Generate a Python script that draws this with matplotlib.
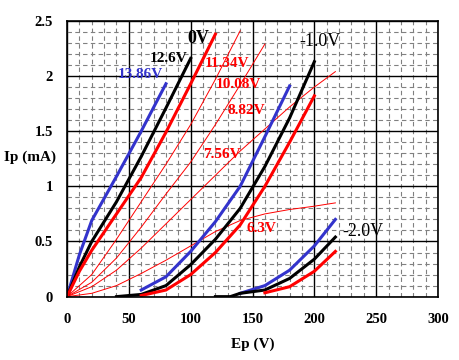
"""
Plate characteristics (Ep vs Ip) for grid bias 0V / -1.0V / -2.0V
at several heater voltages.
"""

import matplotlib
matplotlib.use('Agg')
import matplotlib.pyplot as plt
from matplotlib.ticker import MultipleLocator

RED = '#ff0000'
BLUE = '#3333cc'
BLACK = '#000000'

plt.rcParams.update({
    'font.family': ['Liberation Serif', 'DejaVu Serif'],
    'font.weight': 'bold',
    'axes.labelweight': 'bold',
})

# ── Grid 0V, thick curves ──────────────────────────────────────────
ep_0v_1386 = [0, 10, 20, 40, 60, 80]
ip_0v_1386 = [0, 0.38, 0.69, 1.09, 1.50, 1.93]

ep_0v_126 = [0, 10, 20, 40, 60, 80, 100]
ip_0v_126 = [0, 0.27, 0.50, 0.86, 1.27, 1.71, 2.16]

ep_0v_1134 = [0, 10, 20, 40, 60, 80, 100, 120]
ip_0v_1134 = [0, 0.23, 0.42, 0.75, 1.08, 1.49, 1.93, 2.38]

# ── Grid 0V, reduced heater (thin) ─────────────────────────────────
ep_0v_1008 = [0, 20, 40, 60, 80, 100, 120, 140]
ip_0v_1008 = [0, 0.20, 0.52, 0.86, 1.20, 1.56, 1.97, 2.41]

ep_0v_882 = [0, 20, 40, 60, 80, 100, 120, 140, 160]
ip_0v_882 = [0, 0.13, 0.35, 0.63, 0.93, 1.22, 1.56, 1.92, 2.29]

ep_0v_756 = [0, 20, 40, 60, 80, 100, 120, 140, 160, 180, 200, 217]
ip_0v_756 = [0, 0.09, 0.24, 0.44, 0.66, 0.88, 1.10, 1.32, 1.52, 1.72, 1.90, 2.04]

ep_0v_63 = [0, 20, 40, 60, 80, 100, 120, 140, 160, 180, 200, 217]
ip_0v_63 = [0, 0.03, 0.10, 0.21, 0.33, 0.46, 0.59, 0.69, 0.75, 0.79, 0.82, 0.85]

# ── Grid -1.0V ─────────────────────────────────────────────────────
ep_m1_1386 = [60, 80, 100, 120, 140, 160, 180]
ip_m1_1386 = [0.06, 0.18, 0.41, 0.68, 1.00, 1.45, 1.91]

ep_m1_126 = [40, 60, 80, 100, 120, 140, 160, 180, 200]
ip_m1_126 = [0, 0.02, 0.10, 0.29, 0.52, 0.80, 1.18, 1.62, 2.13]

ep_m1_1134 = [60, 80, 100, 120, 140, 160, 180, 200]
ip_m1_1134 = [0.01, 0.06, 0.20, 0.40, 0.65, 1.00, 1.40, 1.82]

# ── Grid -2.0V ─────────────────────────────────────────────────────
ep_m2_1386 = [140, 160, 180, 200, 217]
ip_m2_1386 = [0.03, 0.10, 0.24, 0.46, 0.70]

ep_m2_126 = [120, 132, 140, 160, 180, 200, 217]
ip_m2_126 = [0, 0, 0.03, 0.06, 0.165, 0.34, 0.54]

ep_m2_1134 = [160, 180, 200, 217]
ip_m2_1134 = [0.035, 0.09, 0.23, 0.41]

x_ticks = [0, 50, 100, 150, 200, 250, 300]
y_ticks = [0, 0.5, 1, 1.5, 2, 2.5]
y_tick_labels = ['0', '0.5', '1', '1.5', '2', '2.5']


def main():
    fig = plt.figure(figsize=(4.6, 3.6), dpi=100)
    fig.patch.set_facecolor('white')
    ax = fig.add_axes([0.1457, 0.176, 0.8065, 0.766])

    ax.set_xlim(0, 300)
    ax.set_ylim(0, 2.5)
    ax.set_xticks(x_ticks)
    ax.set_yticks(y_ticks)
    ax.set_yticklabels(y_tick_labels)
    ax.xaxis.set_minor_locator(MultipleLocator(10))
    ax.yaxis.set_minor_locator(MultipleLocator(0.1))
    ax.grid(which='minor', color='#808080', linestyle=(0, (4, 3)),
            linewidth=0.8)
    ax.grid(which='major', color='black', linestyle='-', linewidth=1.0)
    ax.set_axisbelow(True)
    ax.tick_params(which='both', length=0, labelsize=10.5)
    ax.tick_params(axis='x', pad=12)
    ax.tick_params(axis='y', pad=10)
    for lab in ax.get_xticklabels() + ax.get_yticklabels():
        lab.set_fontweight('bold')
    for sp in ax.spines.values():
        sp.set_linewidth(1.2)

    thin = dict(color=RED, lw=0.7)
    ax.plot(ep_0v_1008, ip_0v_1008, **thin)
    ax.plot(ep_0v_882, ip_0v_882, **thin)
    ax.plot(ep_0v_756, ip_0v_756, **thin)
    ax.plot(ep_0v_63, ip_0v_63, **thin)

    lw = 2.2
    for ep, ip, c in [
        (ep_0v_1386, ip_0v_1386, BLUE), (ep_0v_126, ip_0v_126, BLACK),
        (ep_0v_1134, ip_0v_1134, RED),
        (ep_m1_1386, ip_m1_1386, BLUE), (ep_m1_126, ip_m1_126, BLACK),
        (ep_m1_1134, ip_m1_1134, RED),
        (ep_m2_1386, ip_m2_1386, BLUE), (ep_m2_126, ip_m2_126, BLACK),
        (ep_m2_1134, ip_m2_1134, RED),
    ]:
        ax.plot(ep, ip, color=c, lw=lw, solid_joinstyle='miter')

    # curve labels
    ax.text(97, 2.34, '0V', color=BLACK, fontsize=13, va='center')
    ax.text(67, 2.155, '12.6V', color=BLACK, fontsize=11, va='center')
    ax.text(41, 2.01, '13.86V', color=BLUE, fontsize=11, va='center')
    ax.text(111.5, 2.11, '11.34V', color=RED, fontsize=11, va='center')
    ax.text(120.5, 1.92, '10.08V', color=RED, fontsize=11, va='center')
    ax.text(129.5, 1.69, '8.82V', color=RED, fontsize=11, va='center')
    ax.text(110, 1.29, '7.56V', color=RED, fontsize=11, va='center')
    ax.text(145.5, 0.62, '6.3V', color=RED, fontsize=11, va='center')
    ax.text(188, 2.31, '-1.0V', color=BLACK, fontsize=13,
            fontweight='normal', va='center')
    ax.text(223, 0.595, '-2.0V', color=BLACK, fontsize=13,
            fontweight='normal', va='center')

    ax.set_xlabel('Ep (V)', fontsize=11, fontweight='bold')
    ax.set_ylabel('Ip (mA)', fontsize=11, fontweight='bold', rotation=0,
                  ha='center', va='center')
    ax.xaxis.set_label_coords(0.5, -0.148)
    ax.yaxis.set_label_coords(-0.1, 0.506)

    fig.savefig('out.png', dpi=100, facecolor='white')
    plt.close(fig)


if __name__ == '__main__':
    main()
